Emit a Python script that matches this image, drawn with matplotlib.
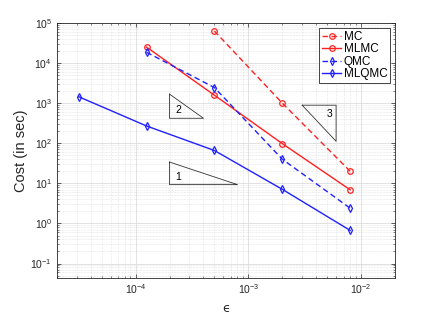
import numpy as np
import matplotlib
matplotlib.use('Agg')
import matplotlib.pyplot as plt
from matplotlib.ticker import LogLocator, NullFormatter

plt.rcParams['font.family'] = ['Liberation Sans', 'DejaVu Sans']
plt.rcParams['mathtext.fontset'] = 'custom'
plt.rcParams['mathtext.rm'] = 'Liberation Sans'
plt.rcParams['mathtext.it'] = 'Liberation Sans:italic'

# tolerance epsilon
eps_all = [3.125e-5, 1.25e-4, 5e-4, 2e-3, 8e-3]

eps_mc = [5e-4, 2e-3, 8e-3]
cost_mc = [63000, 1000, 20]

eps_mlmc = [1.25e-4, 5e-4, 2e-3, 8e-3]
cost_mlmc = [25000, 1580, 98, 6.9]

eps_qmc = [1.25e-4, 5e-4, 2e-3, 8e-3]
cost_qmc = [18600, 2450, 40, 2.4]

eps_mlqmc = eps_all
cost_mlqmc = [1450, 270, 66, 7.1, 0.67]

# slope triangles
tri_x2 = [2e-4, 4e-4]
tri_y2 = [420, 1680]
tri_x1 = [2e-4, 8e-4]
tri_y1 = [9.3, 34]
tri_x3 = [3e-3, 6e-3]
tri_y3 = [112, 891]

fig = plt.figure(figsize=(4.37, 3.15), dpi=100)
ax = fig.add_axes([0.130, 0.118, 0.774, 0.809])

line_kw = dict(lw=1.0, ms=4.0, mfc='none', mew=0.9)
ax.loglog(eps_mc, cost_mc, '--o', color='#ff2020', dashes=(4, 2.5), label='MC', **line_kw)
ax.loglog(eps_mlmc, cost_mlmc, '-o', color='#ff2020', label='MLMC', **line_kw)
ax.loglog(eps_qmc, cost_qmc, '--d', color='#2020ff', dashes=(4, 2.5), label='QMC', **line_kw)
ax.loglog(eps_mlqmc, cost_mlqmc, '-d', color='#2020ff', label='MLQMC', **line_kw)

tri_kw = dict(color='#333333', lw=0.6)
# slope 2: vertical left, horizontal bottom
ax.plot([tri_x2[0], tri_x2[0], tri_x2[1], tri_x2[0]],
        [tri_y2[1], tri_y2[0], tri_y2[0], tri_y2[1]], **tri_kw)
ax.text(tri_x2[0] * 1.12, tri_y2[0] * 1.35, '2', fontsize=7.5)
# slope 1
ax.plot([tri_x1[0], tri_x1[0], tri_x1[1], tri_x1[0]],
        [tri_y1[1], tri_y1[0], tri_y1[0], tri_y1[1]], **tri_kw)
ax.text(tri_x1[0] * 1.12, tri_y1[0] * 1.3, '1', fontsize=7.5)
# slope 3: horizontal top, vertical right
ax.plot([tri_x3[0], tri_x3[1], tri_x3[1], tri_x3[0]],
        [tri_y3[1], tri_y3[1], tri_y3[0], tri_y3[1]], **tri_kw)
ax.text(tri_x3[1] * 0.82, tri_y3[1] * 0.5, '3', fontsize=7.5)

ax.set_xlim(2e-5, 2e-2)
ax.set_ylim(0.044, 1e5)

ax.xaxis.set_major_locator(LogLocator(base=10, numticks=10))
ax.yaxis.set_major_locator(LogLocator(base=10, numticks=10))
ax.xaxis.set_minor_locator(LogLocator(base=10, subs=np.arange(2, 10), numticks=20))
ax.yaxis.set_minor_locator(LogLocator(base=10, subs=np.arange(2, 10), numticks=20))
ax.xaxis.set_minor_formatter(NullFormatter())
ax.yaxis.set_minor_formatter(NullFormatter())
ax.xaxis.get_offset_text().set_visible(False)
ax.yaxis.get_offset_text().set_visible(False)

ax.grid(True, which='major', color='#dddddd', lw=0.6, ls='-')
ax.grid(True, which='minor', color='#cccccc', lw=0.4, ls=':')
ax.set_axisbelow(True)

ax.tick_params(which='both', direction='in', top=True, right=True,
               colors='#262626', labelsize=7.5)
ax.tick_params(which='major', length=3, width=0.5)
ax.tick_params(which='minor', length=1.6, width=0.4)
for s in ax.spines.values():
    s.set_color('#262626')
    s.set_linewidth(0.6)

ax.set_xlabel('\u03f5', fontsize=9, color='#262626', labelpad=4,
              family=['DejaVu Sans'])
ax.set_ylabel('Cost (in sec)', fontsize=10.5, color='#262626', labelpad=2)

leg = ax.legend(loc='upper right', fontsize=8.5, handlelength=1.6,
                handletextpad=0.2, borderpad=0.25, labelspacing=0.05,
                borderaxespad=0.4, fancybox=False, framealpha=1)
leg.get_frame().set_edgecolor('#262626')
leg.get_frame().set_linewidth(0.6)

fig.savefig('out.png', dpi=100)
